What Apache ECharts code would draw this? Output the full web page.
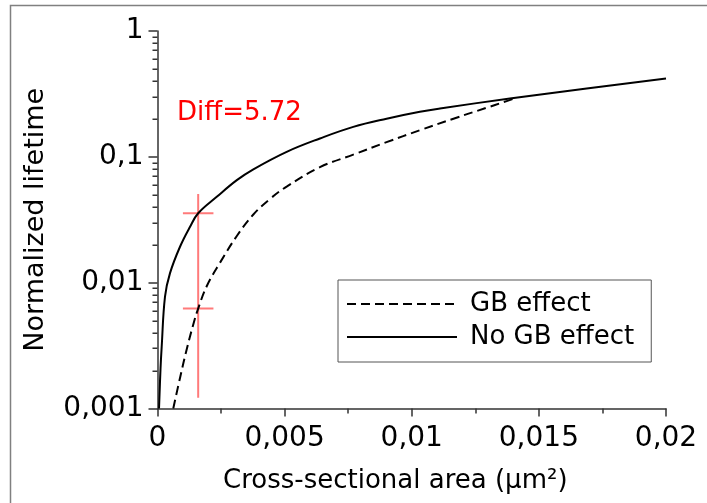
<!DOCTYPE html>
<html>
<head>
<meta charset="utf-8">
<script src="https://cdn.jsdelivr.net/npm/echarts@6/dist/echarts.min.js"></script>
<style>
  html, body { margin: 0; padding: 0; background: #fff; }
  #chart { width: 707px; height: 503px; }
</style>
</head>
<body>
<div id="chart"></div>
<script>
// Lifetime vs. cross-sectional area, with and without grain-boundary effect
const FONT = 'DejaVu Sans';

// Curve without grain-boundary effect
const areaNoGB = [0.00006, 0.00012, 0.000165, 0.000295, 0.000492, 0.000885, 0.00128, 0.0016,
  0.00233, 0.00312, 0.00377, 0.00508, 0.00639, 0.0077, 0.00901, 0.01032, 0.01111, 0.01386, 0.01688, 0.02];
const lifetimeNoGB = [0.001, 0.0021, 0.0031, 0.00775, 0.0119, 0.0193, 0.0278, 0.0356,
  0.0481, 0.0653, 0.0796, 0.1096, 0.140, 0.173, 0.201, 0.228, 0.242, 0.291, 0.349, 0.42];

// Curve with grain-boundary effect
const areaGB = [0.00062, 0.000885, 0.00115, 0.00141, 0.0016, 0.00194, 0.00246, 0.00312, 0.00377,
  0.00442, 0.00508, 0.00639, 0.0077, 0.00901, 0.01032, 0.01164, 0.01295, 0.0136, 0.0141];
const lifetimeGB = [0.001, 0.00175, 0.00296, 0.00468, 0.006224, 0.00941, 0.01443, 0.0235, 0.0348,
  0.0462, 0.058, 0.0828, 0.1041, 0.1308, 0.1628, 0.201, 0.2457, 0.2717, 0.2935];

// Axis ticks
const xTicks = [0, 0.005, 0.01, 0.015, 0.02];
const yTicks = [0.001, 0.01, 0.1, 1];
const yMinorTicks = [0.002, 0.003, 0.004, 0.005, 0.006, 0.007, 0.008, 0.009,
  0.02, 0.03, 0.04, 0.05, 0.06, 0.07, 0.08, 0.09,
  0.2, 0.3, 0.4, 0.5, 0.6, 0.7, 0.8, 0.9];

// Ratio marker between the two curves
const markerArea = 0.0016;
const markerHigh = 0.0356;
const diffRatio = 5.72;
const markerLow = markerHigh / diffRatio;
const markerSpan = [0.00122, 0.0506];
const markerBar = [0.001, 0.0022];

const seriesNames = ['GB effect', 'No GB effect'];

const fmt = v => String(Number(Number(v).toPrecision(6))).replace('.', ',');
const pairs = (xs, ys) => xs.map((x, i) => [x, ys[i]]);

const AXIS_COLOR = '#333';
const MINOR_TICK_LEN = 5;
const redLine = { color: 'rgba(255,50,50,0.65)', width: 2 };

const chart = echarts.init(document.getElementById('chart'), null, { renderer: 'canvas' });

const staticGraphics = [{
  type: 'polyline',
  shape: { points: [[10.5, 503], [10.5, 5.5], [707, 5.5]] },
  style: { stroke: '#808080', lineWidth: 1.5, fill: null },
  silent: true
}, {
  type: 'text',
  left: 177, top: 100,
  style: { text: 'Diff=' + diffRatio.toFixed(2), fill: '#ff0000', font: '26px "DejaVu Sans"' },
  silent: true
}];

chart.setOption({
  animation: false,
  backgroundColor: '#fff',
  textStyle: { fontFamily: FONT },
  grid: { left: 157.5, right: 41, top: 31, bottom: 94.5, containLabel: false, outerBoundsMode: 'none' },
  legend: {
    orient: 'vertical',
    left: 338, top: 280,
    // the line samples only, no point marker on them
    data: seriesNames.map(name => ({ name, itemStyle: { opacity: 0 } })),
    itemWidth: 110, itemHeight: 14, itemGap: 7,
    padding: [11, 17, 12, 8],
    borderColor: '#555', borderWidth: 1, borderRadius: 0,
    backgroundColor: '#fff',
    textStyle: { fontFamily: FONT, fontSize: 26, color: '#000', padding: [0, 0, 0, 8] }
  },
  xAxis: {
    type: 'value',
    min: xTicks[0], max: xTicks[xTicks.length - 1], interval: xTicks[1] - xTicks[0],
    name: 'Cross-sectional area (µm²)',
    nameLocation: 'middle', nameGap: 60,
    nameTextStyle: { fontFamily: FONT, fontSize: 26, color: '#000', padding: [0, 33, 0, 0] },
    axisLine: { show: true, lineStyle: { color: AXIS_COLOR, width: 1.5 } },
    axisTick: { show: true, length: 8, lineStyle: { color: AXIS_COLOR, width: 1.5 } },
    minorTick: { show: true, splitNumber: 2, length: 5, lineStyle: { color: AXIS_COLOR, width: 1.5 } },
    axisLabel: { fontFamily: FONT, fontSize: 28, color: '#000', margin: 16, formatter: fmt },
    splitLine: { show: false }
  },
  yAxis: {
    type: 'log', logBase: 10,
    min: yTicks[0], max: yTicks[yTicks.length - 1],
    name: 'Normalized lifetime',
    nameLocation: 'middle', nameGap: 108,
    nameTextStyle: { fontFamily: FONT, fontSize: 27, color: '#000' },
    axisLine: { show: true, lineStyle: { color: AXIS_COLOR, width: 1.5 } },
    axisTick: { show: true, length: 9, lineStyle: { color: AXIS_COLOR, width: 1.5 } },
    axisLabel: { fontFamily: FONT, fontSize: 28, color: '#000', margin: 14, formatter: fmt },
    splitLine: { show: false }
  },
  graphic: staticGraphics,
  series: [
    {
      name: 'ratio span', type: 'line', symbol: 'none', lineStyle: redLine, z: 1,
      data: [[markerArea, markerSpan[0]], [markerArea, markerSpan[1]]]
    },
    {
      name: 'ratio high', type: 'line', symbol: 'none', lineStyle: redLine, z: 1,
      data: [[markerBar[0], markerHigh], [markerBar[1], markerHigh]]
    },
    {
      name: 'ratio low', type: 'line', symbol: 'none', lineStyle: redLine, z: 1,
      data: [[markerBar[0], markerLow], [markerBar[1], markerLow]]
    },
    {
      name: seriesNames[0], type: 'line', symbol: 'none', smooth: 0.4, z: 3,
      lineStyle: { color: '#000', width: 2, type: [9, 5] },
      itemStyle: { color: '#000' },
      data: pairs(areaGB, lifetimeGB)
    },
    {
      name: seriesNames[1], type: 'line', symbol: 'none', smooth: 0.4, z: 3,
      lineStyle: { color: '#000', width: 2 },
      itemStyle: { color: '#000' },
      data: pairs(areaNoGB, lifetimeNoGB)
    }
  ]
});

// Minor ticks of the log axis (2..9 in each decade), placed through the axis scales
const axisX = chart.convertToPixel({ xAxisIndex: 0 }, xTicks[0]);
const minorTickGraphics = yMinorTicks.map(v => {
  const y = Math.round(chart.convertToPixel({ yAxisIndex: 0 }, v)) + 0.25;
  return {
    type: 'line',
    shape: { x1: axisX - MINOR_TICK_LEN, y1: y, x2: axisX, y2: y },
    style: { stroke: AXIS_COLOR, lineWidth: 1.5 },
    silent: true,
    z: 10
  };
});
chart.setOption({ graphic: staticGraphics.concat(minorTickGraphics) });
</script>
</body>
</html>
